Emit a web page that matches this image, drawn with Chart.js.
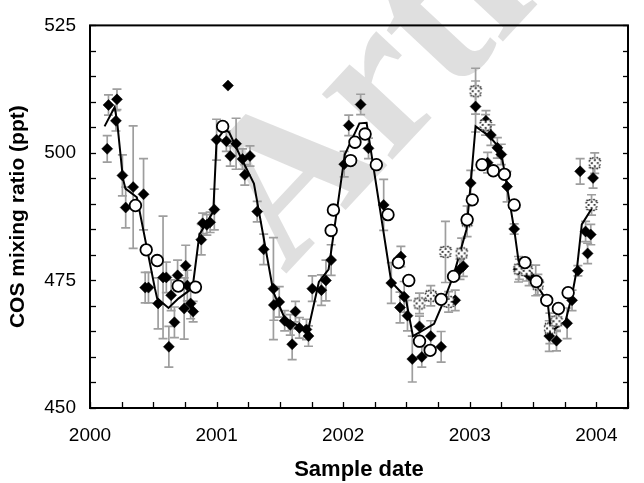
<!DOCTYPE html>
<html><head><meta charset="utf-8">
<script src="https://cdn.jsdelivr.net/npm/chart.js@4/dist/chart.umd.min.js"></script>
<style>html,body{margin:0;padding:0;background:#fff}#wrap{width:644px;height:483px}</style>
</head><body><div id="wrap"><canvas id="c" width="644" height="483"></canvas></div>
<script>
// ---- data (decimal year, ppt) ----
const diamondX = [2000.136,2000.146,2000.205,2000.213,2000.256,2000.282,2000.341,2000.423,2000.436,2000.462,2000.538,2000.577,2000.603,2000.623,2000.641,2000.667,2000.692,2000.744,2000.756,2000.769,2000.795,2000.815,2000.879,2000.890,2000.923,2000.949,2000.982,2001.000,2001.077,2001.090,2001.108,2001.154,2001.205,2001.223,2001.264,2001.321,2001.372,2001.449,2001.452,2001.495,2001.538,2001.582,2001.597,2001.623,2001.654,2001.710,2001.726,2001.756,2001.828,2001.864,2001.905,2002.008,2002.044,2002.138,2002.200,2002.320,2002.380,2002.449,2002.456,2002.482,2002.508,2002.546,2002.603,2002.621,2002.692,2002.774,2002.885,2002.923,2002.949,2003.008,2003.046,2003.128,2003.141,2003.167,2003.218,2003.249,2003.295,2003.351,2003.385,2003.469,2003.521,2003.628,2003.685,2003.769,2003.808,2003.854,2003.872,2003.915,2003.931,2003.956,2003.974];
const diamondY = [500.8,509.4,506.3,510.5,495.6,489.3,493.3,491.9,473.6,473.6,470.5,475.6,475.6,462.0,472.1,466.8,476.0,469.5,477.9,474.0,470.5,468.9,483.0,486.2,485.9,486.4,488.9,502.6,502.3,513.2,499.4,501.8,498.8,495.7,499.4,488.5,481.1,473.4,470.2,470.8,467.1,466.3,462.5,468.9,465.7,465.4,464.1,473.4,473.1,475.0,479.0,497.8,505.4,509.5,500.9,489.8,474.5,469.7,479.7,471.8,468.1,459.6,466.0,460.0,464.1,462.0,471.1,477.2,477.8,494.1,509.1,506.3,498.1,503.5,501.0,499.7,493.4,485.1,477.2,476.0,475.0,464.1,463.2,466.6,471.1,476.9,496.4,484.6,480.3,484.0,495.1];
const diamondErr = [2.6,2,2,2,4,4,12,7,3,3,5,12,3,4,3,3,3,6,4,3,3,2,3,2,2,2,4,4,2,0,2,5,2,2,2,2,3,10,3,3,2,2,3,2,2,2,2,2.5,3,4,3,2.5,2,2,2,5,4,3,2,3,3,4.5,2,2,3,3,2,2,2,2.5,5,2,2,2,2,2,3,1,2.5,2,3,3,2,3,2,1,2.5,2,2,2,2];
const circleX = [2000.359,2000.444,2000.531,2000.697,2000.833,2001.048,2001.905,2001.923,2002.059,2002.093,2002.173,2002.262,2002.354,2002.436,2002.518,2002.603,2002.687,2002.774,2002.872,2002.979,2003.020,2003.097,2003.186,2003.274,2003.351,2003.436,2003.526,2003.608,2003.700,2003.777];
const circleY = [489.7,481.0,478.9,473.9,473.7,505.2,484.8,488.8,498.5,502.1,503.7,497.7,487.9,478.5,475.0,463.1,461.3,471.3,475.8,486.9,490.8,497.7,496.5,495.8,489.8,478.5,474.8,471.1,469.5,472.6];
const crossX = [2002.603,2002.692,2002.808,2002.833,2002.936,2002.979,2003.046,2003.125,2003.392,2003.449,2003.538,2003.633,2003.685,2003.962,2003.987];
const crossY = [470.5,472.0,480.6,470.8,480.3,486.6,512.1,505.5,477.2,476.9,474.2,465.6,467.0,489.8,498.0];
const crossErr = [2,2,6,2,3,3,4.5,2,2,2,2,3,2,2,2];
const lineX = [2000.115,2000.195,2000.215,2000.260,2000.280,2000.370,2000.513,2000.530,2000.620,2000.700,2000.810,2000.864,2000.974,2001.000,2001.064,2001.100,2001.192,2001.295,2001.449,2001.538,2001.654,2001.718,2001.808,2001.885,2002.013,2002.128,2002.185,2002.380,2002.492,2002.551,2002.718,2002.782,2002.872,2002.974,2003.005,2003.046,2003.154,2003.244,2003.295,2003.351,2003.385,2003.500,2003.615,2003.641,2003.756,2003.808,2003.846,2003.885,2003.974];
const lineY = [505.2,509.0,506.0,495.0,493.0,491.3,473.4,471.5,469.6,471.5,473.5,484.0,488.5,502.5,504.6,504.0,499.1,494.0,472.7,467.6,466.0,464.7,474.7,477.2,499.7,505.8,505.9,474.7,471.8,464.1,466.5,470.2,476.0,485.0,493.3,505.2,503.3,500.7,493.3,485.0,478.9,475.2,470.8,465.0,467.0,472.1,477.2,486.0,489.5];
const xTickLabels = ['2000','2001','2002','2003','2004'];
const yTickLabels = ['450','475','500','525'];

const pts = (xs, ys) => xs.map((x, i) => ({x: x, y: ys[i]}));

// dotted X marker
function makeCross() {
  const c = document.createElement('canvas');
  c.width = 16; c.height = 16;
  const g = c.getContext('2d');
  g.translate(8, 8); g.rotate(Math.PI / 4);
  const L = 6.3, a = 2.1;
  const P = [[a,-L],[a,-a],[L,-a],[L,a],[a,a],[a,L],[-a,L],[-a,a],[-L,a],[-L,-a],[-a,-a],[-a,-L]];
  g.beginPath(); P.forEach((p, i) => i ? g.lineTo(p[0], p[1]) : g.moveTo(p[0], p[1])); g.closePath();
  g.fillStyle = '#fff'; g.fill();
  g.setLineDash([1.3, 1.9]); g.lineWidth = 1.8; g.strokeStyle = '#000'; g.stroke();
  return c;
}
const crossImg = makeCross();

const FONT = '"Liberation Sans", Arial, Helvetica, sans-serif';

const watermark = {
  id: 'watermark',
  beforeDraw(chart) {
    const ctx = chart.ctx;
    ctx.save();
    ctx.translate(285, 275);
    ctx.rotate(-47 * Math.PI / 180);
    ctx.font = 'bold 210px "Liberation Serif", "Times New Roman", serif';
    ctx.fillStyle = 'rgba(150,150,150,0.30)';
    ctx.textBaseline = 'alphabetic';
    ctx.fillText('Article', 0, 0);
    ctx.restore();
  }
};

const errBars = {
  id: 'errBars',
  beforeDatasetsDraw(chart) {
    const ctx = chart.ctx, xs = chart.scales.x, ys = chart.scales.y;
    ctx.save();
    ctx.strokeStyle = '#9e9e9e';
    ctx.lineWidth = 1.7;
    const draw = (X, Y, E) => {
      X.forEach((x, i) => {
        const e = E[i]; if (!e) return;
        const px = xs.getPixelForValue(x);
        const p1 = ys.getPixelForValue(Y[i] + e), p2 = ys.getPixelForValue(Y[i] - e);
        ctx.beginPath();
        ctx.moveTo(px, p1); ctx.lineTo(px, p2);
        ctx.moveTo(px - 4.5, p1); ctx.lineTo(px + 4.5, p1);
        ctx.moveTo(px - 4.5, p2); ctx.lineTo(px + 4.5, p2);
        ctx.stroke();
      });
    };
    draw(diamondX, diamondY, diamondErr);
    draw(crossX, crossY, crossErr);
    ctx.restore();
  }
};

const frame = {
  id: 'frame',
  afterDraw(chart) {
    const ctx = chart.ctx, a = chart.chartArea, xs = chart.scales.x, ys = chart.scales.y;
    ctx.save();
    ctx.strokeStyle = '#000';
    ctx.lineWidth = 1.3;
    xs.ticks.forEach(t => {
      const px = Math.round(xs.getPixelForValue(t.value)) + 0.5;
      ctx.beginPath(); ctx.moveTo(px, a.bottom); ctx.lineTo(px, a.bottom - 6); ctx.stroke();
    });
    ys.ticks.forEach(t => {
      const py = Math.round(ys.getPixelForValue(t.value)) + 0.5;
      ctx.beginPath(); ctx.moveTo(a.left, py); ctx.lineTo(a.left + 6, py); ctx.stroke();
      ctx.beginPath(); ctx.moveTo(a.right, py); ctx.lineTo(a.right - 5, py); ctx.stroke();
    });
    ctx.lineWidth = 2;
    ctx.strokeRect(a.left, a.top, a.right - a.left, a.bottom - a.top);
    ctx.restore();
  }
};

new Chart(document.getElementById('c'), {
  type: 'scatter',
  data: {
    datasets: [
      { label: 'circles', data: pts(circleX, circleY), pointStyle: 'circle', pointRadius: 5.8,
        backgroundColor: '#fff', borderColor: '#000', borderWidth: 1.8, showLine: false },
      { label: 'crosses', data: pts(crossX, crossY), pointStyle: crossImg, pointRadius: 8, showLine: false },
      { label: 'diamonds', data: pts(diamondX, diamondY), pointStyle: 'rectRot', pointRadius: 5.5,
        backgroundColor: '#000', borderColor: '#000', borderWidth: 0.5, showLine: false },
      { label: 'fit', data: pts(lineX, lineY), showLine: true, pointRadius: 0, borderColor: '#000',
        borderWidth: 2, tension: 0, fill: false }
    ]
  },
  options: {
    responsive: false, animation: false, devicePixelRatio: 1,
    layout: { padding: { top: 19, right: 2, bottom: 0, left: 0 } },
    plugins: { legend: { display: false }, tooltip: { enabled: false } },
    scales: {
      x: {
        type: 'linear', min: 2000, max: 2004.25,
        grid: { display: false, drawTicks: false }, border: { display: false },
        ticks: { stepSize: 0.25, autoSkip: false, maxRotation: 0, color: '#000', padding: 16,
          font: { family: FONT, size: 19 },
          callback: v => { const s = String(v); return xTickLabels.includes(s) ? s : ''; } },
        title: { display: true, text: 'Sample date', color: '#000', padding: { top: 0, bottom: 0 },
          font: { family: FONT, size: 22, weight: 'bold' } },
        afterFit: s => { s.height = 75; }
      },
      y: {
        min: 450, max: 525,
        grid: { display: false, drawTicks: false }, border: { display: false },
        ticks: { stepSize: 5, autoSkip: false, color: '#000', padding: 14,
          font: { family: FONT, size: 19 },
          callback: v => { const s = String(v); return yTickLabels.includes(s) ? s : ''; } },
        title: { display: true, text: 'COS mixing ratio (ppt)', color: '#000', padding: { top: 6, bottom: 0 },
          font: { family: FONT, size: 21, weight: 'bold' } },
        afterFit: s => { s.width = 90; }
      }
    }
  },
  plugins: [watermark, errBars, frame]
});
</script>
</body></html>
